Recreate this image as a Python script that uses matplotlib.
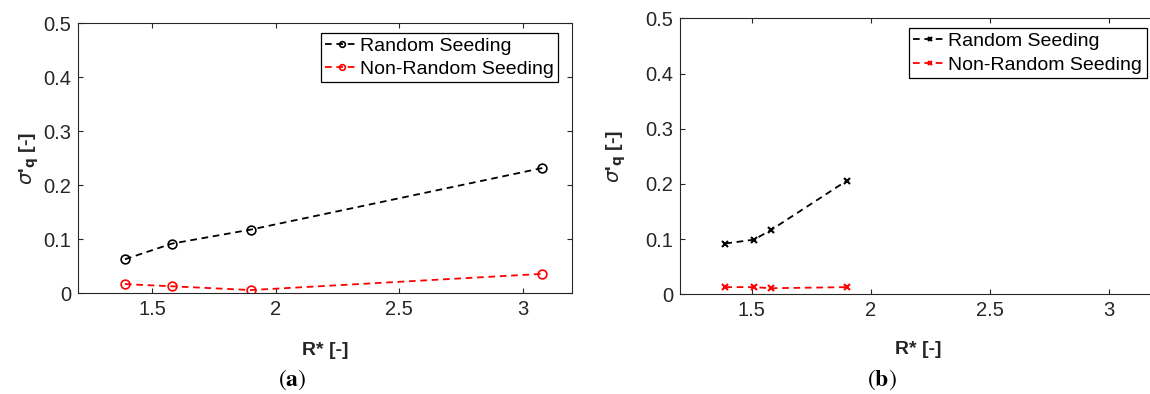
import numpy as np
import matplotlib
matplotlib.use("Agg")
import matplotlib.pyplot as plt

plt.rcParams['font.family'] = ['Liberation Sans', 'DejaVu Sans']

# panel (a)
x_a = [1.39, 1.58, 1.90, 3.08]
rand_a = [0.063, 0.092, 0.118, 0.232]
nonrand_a = [0.017, 0.013, 0.006, 0.036]

# panel (b)
x_b = [1.39, 1.51, 1.58, 1.90]
rand_b = [0.092, 0.099, 0.116, 0.206]
nonrand_b = [0.013, 0.013, 0.011, 0.013]

xticks = [1.5, 2, 2.5, 3]
xticklabels = ['1.5', '2', '2.5', '3']
yticks = [0, 0.1, 0.2, 0.3, 0.4, 0.5]
yticklabels = ['0', '0.1', '0.2', '0.3', '0.4', '0.5']
labels = ['Random Seeding', 'Non-Random Seeding']

W, H = 1150, 394
fig = plt.figure(figsize=(W / 100, H / 100), dpi=100)

frame = '#262626'
dash = (3.7, 2.6)


def setup(ax):
    ax.set_xlim(1.2, 3.2)
    ax.set_ylim(0, 0.5)
    ax.set_xticks(xticks)
    ax.set_xticklabels(xticklabels)
    ax.set_yticks(yticks)
    ax.set_yticklabels(yticklabels)
    ax.tick_params(direction='in', length=3.6, width=0.8, top=True, right=True,
                   labelsize=14.5, colors=frame, pad=5)
    for s in ax.spines.values():
        s.set_color(frame)
        s.set_linewidth(0.8)
    ax.set_xlabel('R* [-]', fontsize=14, fontweight='bold', color=frame)
    ax.set_ylabel(r"$\sigma$'$_\mathbf{q}$ [-]", fontsize=14, fontweight='bold', color=frame)


def add_legend(ax, anchor):
    leg = ax.legend(loc='upper right', bbox_to_anchor=anchor, borderaxespad=0,
                    fontsize=14, fancybox=False, framealpha=1, edgecolor='black',
                    handlelength=1.7, handletextpad=0.1, markerscale=0.65,
                    labelspacing=0.3, borderpad=0.22)
    leg.get_frame().set_linewidth(0.9)


# (a)
ax1 = fig.add_axes([78 / W, 1 - 293.3 / H, 494 / W, 270 / H])
ax1.plot(x_a, rand_a, color='black', ls='--', dashes=dash, lw=1.3, marker='o',
         ms=6.3, mew=1.2, mfc='none', label=labels[0])
ax1.plot(x_a, nonrand_a, color='red', ls='--', dashes=dash, lw=1.3, marker='o',
         ms=6.3, mew=1.2, mfc='none', label=labels[1])
setup(ax1)
ax1.xaxis.set_label_coords(0.5, -0.18)
ax1.yaxis.set_label_coords(-0.075, 0.5)
add_legend(ax1, (0.972, 0.965))

# (b)
ax2 = fig.add_axes([680 / W, 1 - 294.3 / H, 477 / W, 276 / H])
ax2.plot(x_b, rand_b, color='black', ls='--', dashes=dash, lw=1.3, marker='x',
         ms=5, mew=1.5, label=labels[0])
ax2.plot(x_b, nonrand_b, color='red', ls='--', dashes=dash, lw=1.3, marker='x',
         ms=5, mew=1.5, label=labels[1])
setup(ax2)
ax2.xaxis.set_label_coords(0.5, -0.17)
ax2.yaxis.set_label_coords(-0.11, 0.5)
add_legend(ax2, (0.978, 0.964))

# sub-captions
fig.text(292 / W, 1 - 380 / H, r'$(\mathbf{a})$', math_fontfamily='stix',
         fontsize=17, ha='center', va='center')
fig.text(882 / W, 1 - 380 / H, r'$(\mathbf{b})$', math_fontfamily='stix',
         fontsize=17, ha='center', va='center')

fig.savefig('out.png', dpi=100)
